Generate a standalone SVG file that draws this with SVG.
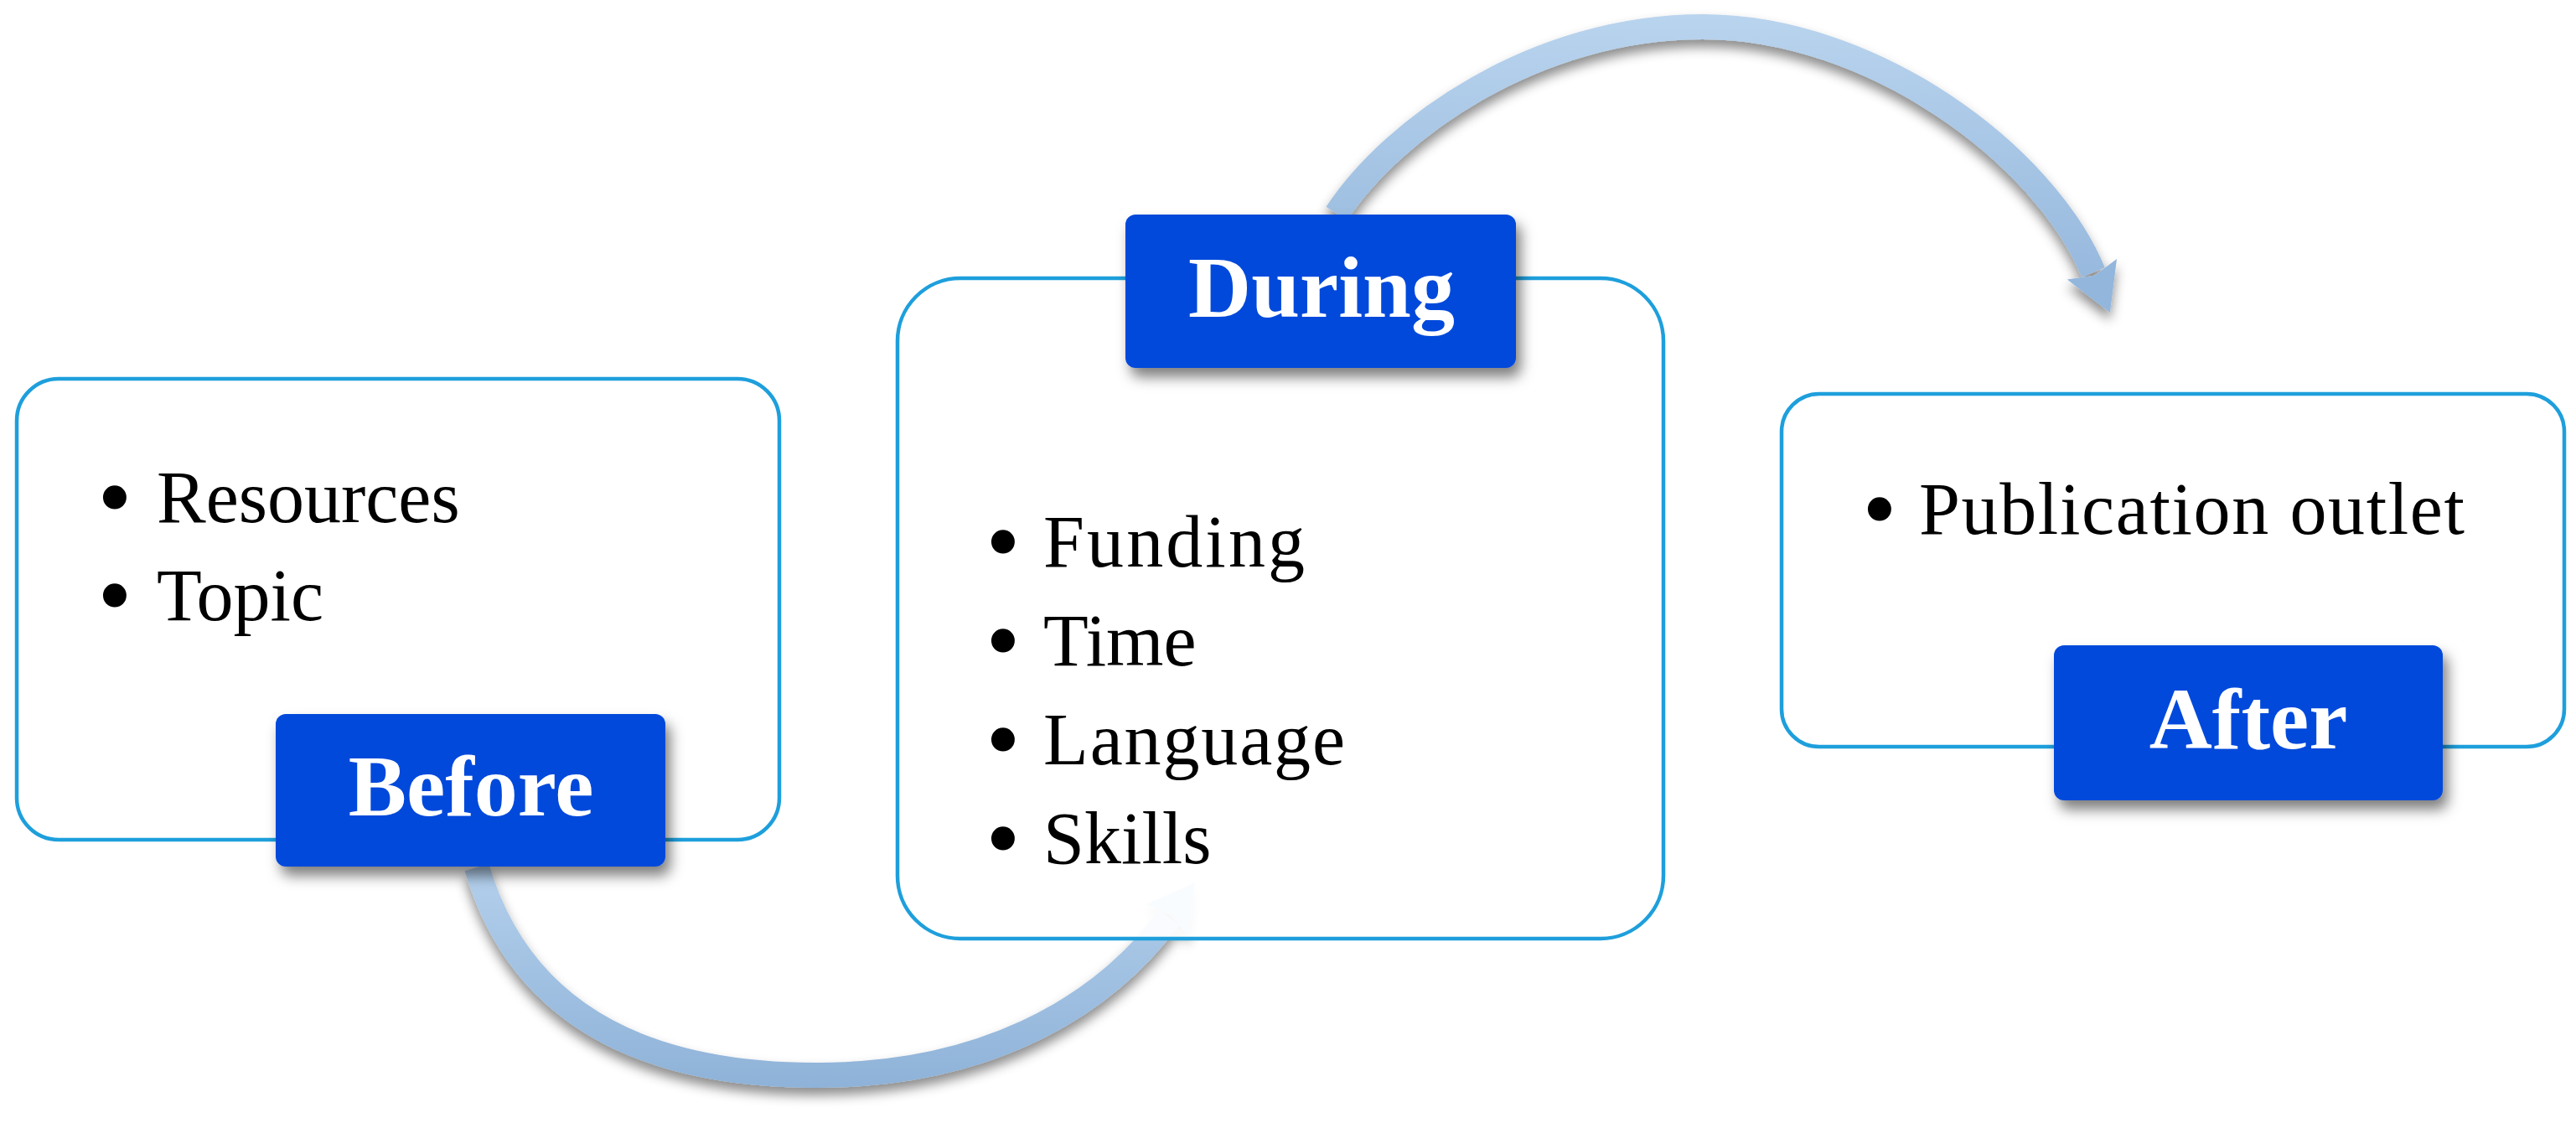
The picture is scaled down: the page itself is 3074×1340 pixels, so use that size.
<svg xmlns="http://www.w3.org/2000/svg" width="3074" height="1340" viewBox="0 0 3074 1340">
<style>
.box{fill:#ffffff;fill-opacity:0.93;stroke:#1E9FDC;stroke-width:4.5}
.lab{fill:#0349DB}
.labt{font-family:"Liberation Serif","Times New Roman",serif;font-weight:bold;font-size:104px;fill:#ffffff;text-anchor:middle}
.item{font-family:"Liberation Serif","Times New Roman",serif;font-size:88px;fill:#000000}
.bul{font-family:"Liberation Serif","Times New Roman",serif;font-size:88px;fill:#000000;stroke:#000000;stroke-width:7;stroke-linejoin:round;text-anchor:middle}
.arc{fill:none;stroke-width:30;stroke-linecap:butt}
</style>
<defs>
<filter id="shArc" x="-10%" y="-15%" width="120%" height="140%">
<feDropShadow dx="0" dy="9" stdDeviation="7" flood-color="#000" flood-opacity="0.45"/>
</filter>
<filter id="shLab" x="-10%" y="-15%" width="125%" height="140%">
<feDropShadow dx="6" dy="11" stdDeviation="8" flood-color="#000" flood-opacity="0.5"/>
</filter>
<linearGradient id="gTop" gradientUnits="userSpaceOnUse" x1="0" y1="16" x2="0" y2="380">
<stop offset="0" stop-color="#B9D4EE"/>
<stop offset="1" stop-color="#92B5DB"/>
</linearGradient>
<linearGradient id="gBot" gradientUnits="userSpaceOnUse" x1="0" y1="1030" x2="0" y2="1300">
<stop offset="0" stop-color="#B4D0EC"/>
<stop offset="1" stop-color="#8EB2D8"/>
</linearGradient>
<marker id="headTop" markerUnits="userSpaceOnUse" viewBox="-10 -40 70 80" markerWidth="70" markerHeight="80" refX="0" refY="0" orient="auto" overflow="visible">
<path d="M-4,-32 L52,0 L-4,32 L4,0 Z" fill="#93B6DC"/>
</marker>
<marker id="headBot" markerUnits="userSpaceOnUse" viewBox="-10 -40 70 80" markerWidth="70" markerHeight="80" refX="0" refY="0" orient="auto" overflow="visible">
<path d="M-4,-32 L52,0 L-4,32 L4,0 Z" fill="#AECBEA"/>
</marker>
</defs>
<rect width="3074" height="1340" fill="#ffffff"/>
<g id="connectors">
<path id="arc-before-during" class="arc" filter="url(#shArc)" stroke="url(#gBot)" marker-end="url(#headBot)" d="M569,1035 C625,1225 790,1283 975,1283 C1165,1283 1310,1210 1395,1095"/>
<path id="arc-during-after" class="arc" filter="url(#shArc)" stroke="url(#gTop)" marker-end="url(#headTop)" d="M1595,255 C1662,153 1832,32 2032,32 C2235,32 2440,185 2498,325"/>
</g>
<g id="node-before">
<rect class="box" x="20" y="452" width="910" height="550" rx="50" ry="50"/>
<text class="bul" x="137" y="623">•</text>
<text class="item" x="187" y="623">Resources</text>
<text class="bul" x="137" y="740">•</text>
<text class="item" x="187" y="740">Topic</text>
<rect class="lab" filter="url(#shLab)" x="329" y="852" width="465" height="182" rx="12" ry="12"/>
<text class="labt" x="562" y="973">Before</text>
</g>
<g id="node-during">
<rect class="box" x="1071" y="332" width="914" height="788" rx="75" ry="75"/>
<text class="bul" x="1197" y="676">•</text>
<text class="item" x="1245" y="676" textLength="312">Funding</text>
<text class="bul" x="1197" y="794">•</text>
<text class="item" x="1245" y="794">Time</text>
<text class="bul" x="1197" y="912">•</text>
<text class="item" x="1245" y="912" textLength="360">Language</text>
<text class="bul" x="1197" y="1030">•</text>
<text class="item" x="1245" y="1030">Skills</text>
<rect class="lab" filter="url(#shLab)" x="1343" y="256" width="466" height="183" rx="12" ry="12"/>
<text class="labt" x="1577" y="378">During</text>
</g>
<g id="node-after">
<rect class="box" x="2126" y="470" width="934" height="421" rx="45" ry="45"/>
<text class="bul" x="2243" y="637">•</text>
<text class="item" x="2290" y="637" textLength="651">Publication outlet</text>
<rect class="lab" filter="url(#shLab)" x="2451" y="770" width="464" height="185" rx="12" ry="12"/>
<text class="labt" x="2683" y="893">After</text>
</g>
</svg>
